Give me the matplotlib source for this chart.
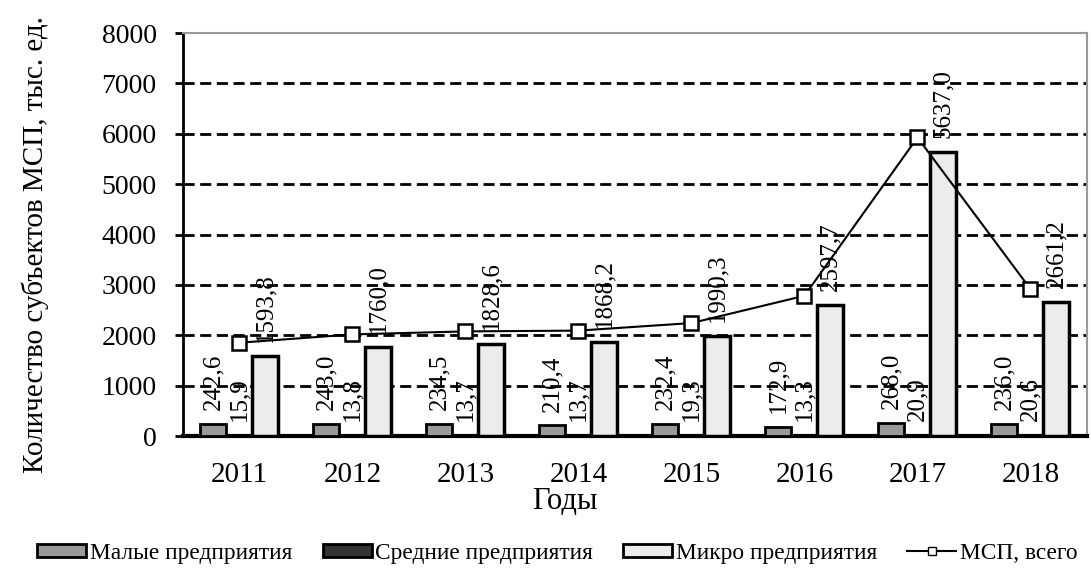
import matplotlib
matplotlib.use("Agg")
import matplotlib.pyplot as plt
import numpy as np
from matplotlib.lines import Line2D
from matplotlib.patches import Patch

years = ["2011", "2012", "2013", "2014", "2015", "2016", "2017", "2018"]
small = [242.6, 243.0, 234.5, 210.4, 232.4, 172.9, 268.0, 236.0]
medium = [15.9, 13.8, 13.7, 13.7, 19.3, 13.3, 20.9, 20.6]
micro = [1593.8, 1760.0, 1828.6, 1868.2, 1990.3, 2597.7, 5637.0, 2661.2]
total = [s + m + mi for s, m, mi in zip(small, medium, micro)]

def fmt(v):
    return f"{v:.1f}".replace(".", ",")

plt.rcParams['font.family'] = ['Liberation Serif', 'DejaVu Serif']

fig = plt.figure(figsize=(10.91, 5.74), dpi=100)
ax = fig.add_axes([0.1677, 0.2404, 0.9963 - 0.1677, 0.9425 - 0.2404])

x = np.arange(len(years))
w = 0.23
ax.bar(x - w, small, w, color="#999999", edgecolor="black", linewidth=2, zorder=3)
ax.bar(x, medium, w, color="#333333", edgecolor="black", linewidth=2, zorder=3)
ax.bar(x + w, micro, w, color="#ececec", edgecolor="black", linewidth=2.5, zorder=3)
ax.plot(x, total, color="black", linewidth=1.5, marker="s", markersize=10.5,
        markerfacecolor="white", markeredgecolor="black", markeredgewidth=1.8, zorder=5)

for xs, vals in [(x - w, small), (x, medium), (x + w, micro)]:
    for xi, v in zip(xs, vals):
        ax.annotate(fmt(v), (xi, v), xytext=(0, 10), textcoords="offset points",
                    rotation=90, ha="center", va="bottom", fontsize=18, zorder=6)

ax.set_xlim(-0.5, len(years) - 0.5)
ax.set_ylim(0, 8000)
ax.set_yticks(range(0, 8001, 1000))
ax.set_xticks(x)
ax.set_xticklabels(years)
ax.tick_params(axis="y", labelsize=20, length=6, width=2, pad=13)
ax.tick_params(axis="x", labelsize=21, length=0, pad=19)

for yv in range(1000, 8000, 1000):
    ax.axhline(yv, color="black", linewidth=2, linestyle=(0, (4, 2)), zorder=1)

ax.spines["left"].set_linewidth(2)
ax.spines["bottom"].set_linewidth(3)
ax.spines["top"].set_color("#999999")
ax.spines["right"].set_color("#999999")
ax.spines["top"].set_linewidth(1.5)
ax.spines["right"].set_linewidth(1.5)

ax.set_xlabel("Годы", fontsize=22)
ax.xaxis.set_label_coords((565 - 183) / 904, (436 - 501) / 403)
ax.xaxis.label.set_va("center")
fig.text(35 / 1091, 1 - 245 / 574, "Количество субъектов МСП, тыс. ед.", fontsize=21,
         rotation=90, ha="center", va="center")

handles = [
    Patch(facecolor="#999999", edgecolor="black", linewidth=2),
    Patch(facecolor="#333333", edgecolor="black", linewidth=2),
    Patch(facecolor="#ececec", edgecolor="black", linewidth=2),
    Line2D([0], [0], color="black", linewidth=1.5, marker="s", markersize=6,
           markerfacecolor="white", markeredgecolor="black"),
]
labels = ["Малые предприятия", "Средние предприятия", "Микро предприятия", "МСП, всего"]
fig.legend(handles, labels, loc="center", bbox_to_anchor=(0.511, 0.036), ncol=4,
           frameon=False, fontsize=16.8, handlelength=2.1, handleheight=0.5,
           handletextpad=0.15, columnspacing=1.3)

fig.savefig("out.png", dpi=100)
